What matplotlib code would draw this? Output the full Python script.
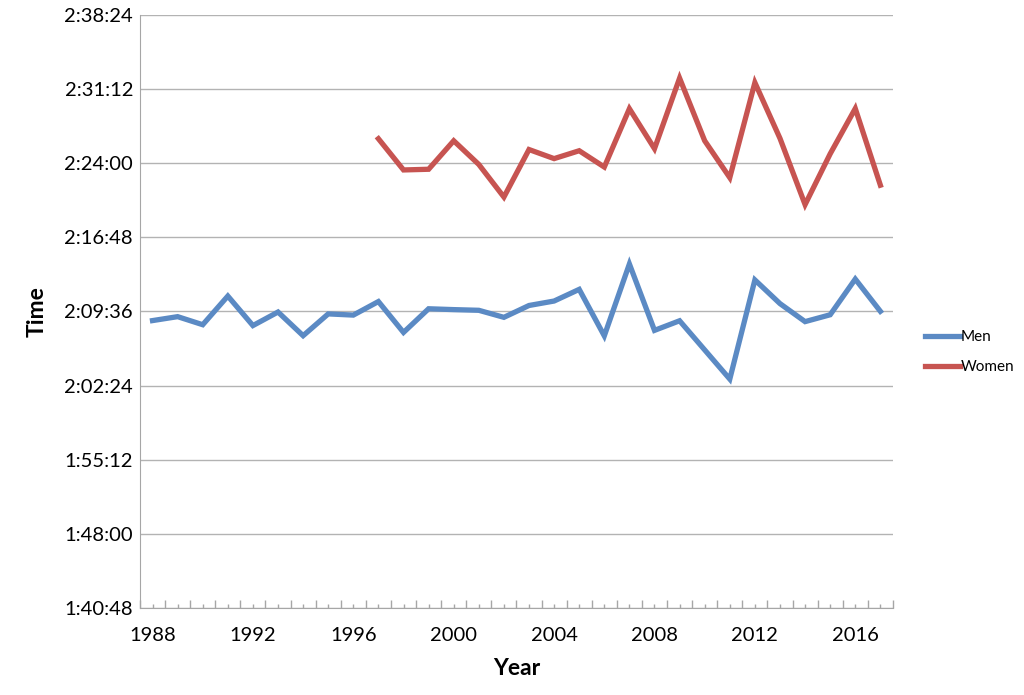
import numpy as np
import matplotlib.pyplot as plt
from matplotlib.ticker import FuncFormatter

men_years = np.arange(1988, 2018)
men_times = ["2:08:43", "2:09:06", "2:08:19", "2:11:06", "2:08:14", "2:09:33",
             "2:07:15", "2:09:22", "2:09:15", "2:10:34", "2:07:34", "2:09:52",
             "2:09:47", "2:09:43", "2:09:02", "2:10:11", "2:10:37", "2:11:45",
             "2:07:14", "2:14:13", "2:07:46", "2:08:42", "2:05:52", "2:03:02",
             "2:12:40", "2:10:22", "2:08:37", "2:09:17", "2:12:45", "2:09:37"]

women_years = np.arange(1997, 2018)
women_times = ["2:26:23", "2:23:21", "2:23:25", "2:26:11", "2:23:53", "2:20:43",
               "2:25:20", "2:24:27", "2:25:13", "2:23:38", "2:29:18", "2:25:25",
               "2:32:16", "2:26:11", "2:22:36", "2:31:50", "2:26:25", "2:19:59",
               "2:24:55", "2:29:19", "2:21:52"]

y_ticks = np.arange(6048, 9505, 432)  # 1:40:48 .. 2:38:24 in seconds
year_labels = np.arange(1988, 2017, 4)


def to_seconds(t):
    h, m, s = t.split(":")
    return int(h) * 3600 + int(m) * 60 + int(s)


def hms(v, pos=None):
    v = int(round(v))
    return "%d:%02d:%02d" % (v // 3600, (v % 3600) // 60, v % 60)


men_sec = np.array([to_seconds(t) for t in men_times])
women_sec = np.array([to_seconds(t) for t in women_times])

plt.rcParams['font.family'] = ['Lato', 'DejaVu Sans']

fig = plt.figure(figsize=(10.24, 6.95), dpi=100)
ax = fig.add_axes([0.1367, 0.1252, 0.872 - 0.1367, 0.9784 - 0.1252])

ax.plot(men_years, men_sec, color='#5b8ac4', lw=3.8, label='Men', solid_joinstyle='miter')
ax.plot(women_years, women_sec, color='#c75451', lw=3.8, label='Women', solid_joinstyle='miter')

ax.set_ylim(6048, 9504)
ax.set_yticks(y_ticks)
ax.yaxis.set_major_formatter(FuncFormatter(hms))
ax.grid(axis='y', color='#b3b3b3', lw=1)
ax.set_axisbelow(True)
ax.tick_params(axis='y', length=0, labelsize=14.5, pad=5)

ax.set_xlim(1987.5, 2017.5)
ax.set_xticks(np.arange(1987.5, 2018, 1))
ax.set_xticklabels([])
ax.set_xticks(men_years, minor=True)
ax.set_xticklabels([str(y) if y in year_labels else "" for y in men_years], minor=True)
ax.tick_params(axis='x', which='major', length=6, color='#a6a6a6', width=1, direction='in')
ax.tick_params(axis='x', which='minor', length=3, color='#a6a6a6', width=1, direction='in',
               labelsize=14.5, pad=14)

for side in ['top', 'right']:
    ax.spines[side].set_visible(False)
for side in ['left', 'bottom']:
    ax.spines[side].set_color('#a6a6a6')

ax.set_xlabel('Year', fontsize=16.5, fontweight='bold', labelpad=10)
ax.set_ylabel('Time', fontsize=16.5, fontweight='bold', labelpad=12)

fig.legend(loc='center left', bbox_to_anchor=(0.903, 0.493), frameon=False,
           borderaxespad=0, borderpad=0,
           fontsize=11, handlelength=2.3, handletextpad=0.05, labelspacing=1.05)

fig.savefig('out.png', dpi=100)
